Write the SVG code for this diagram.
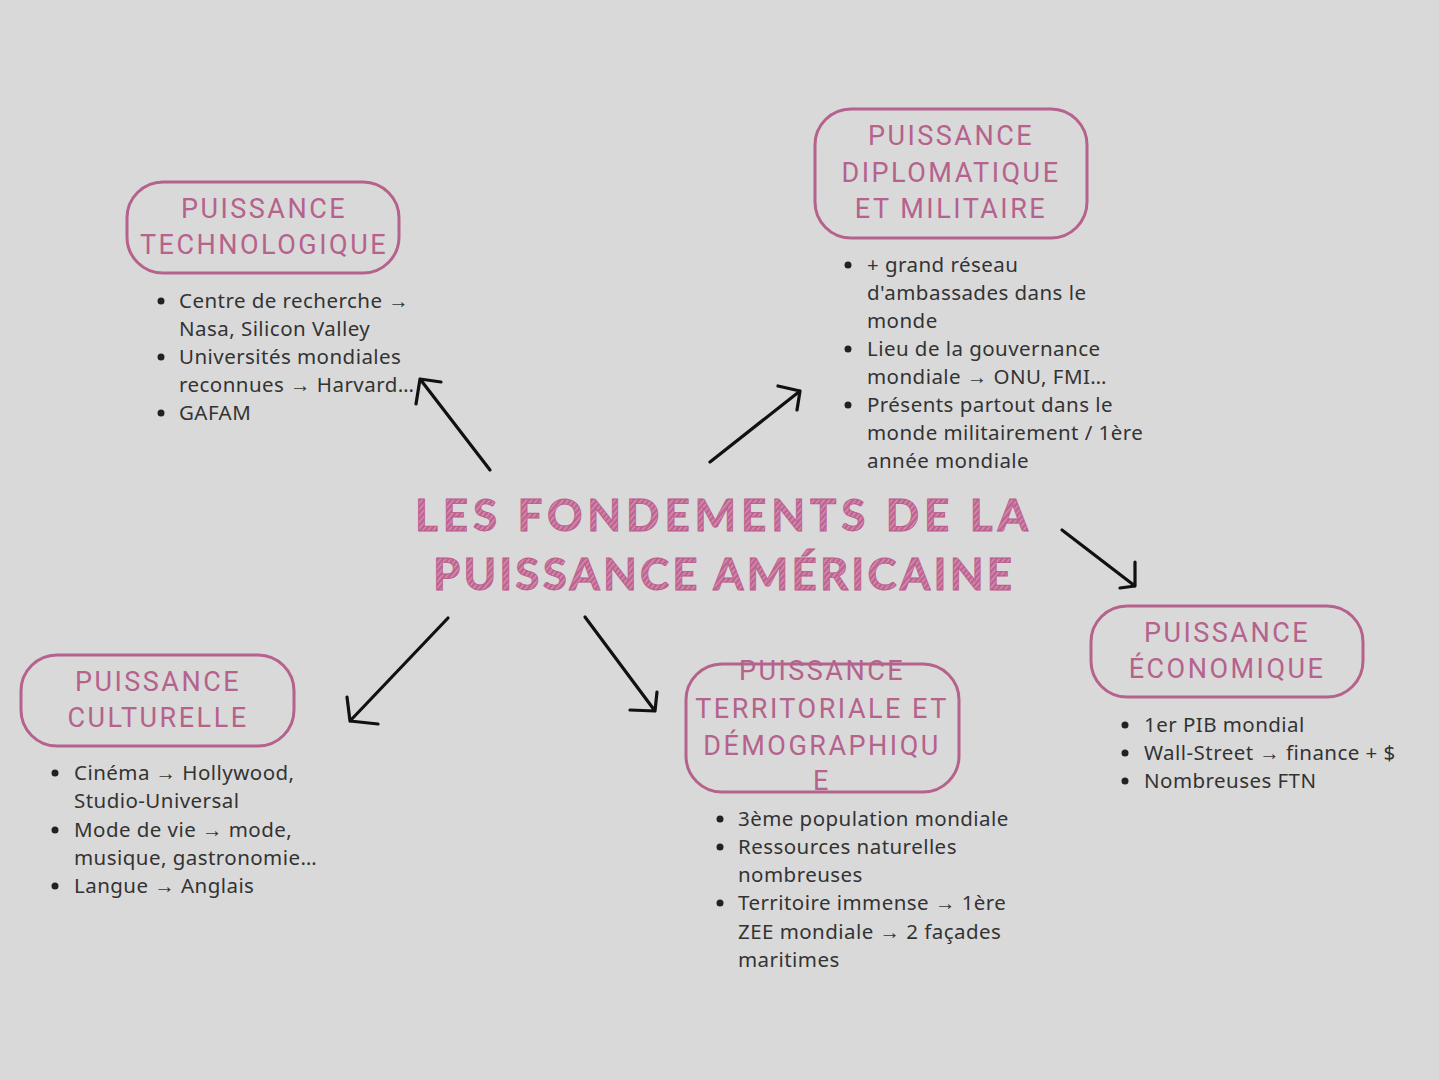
<svg xmlns="http://www.w3.org/2000/svg" width="1439" height="1080" viewBox="0 0 1439 1080">
<defs>
<pattern id="hatch" width="4" height="4" patternUnits="userSpaceOnUse" patternTransform="rotate(40)">
<rect width="4" height="4" fill="#bd6390"/>
<rect width="1.4" height="4" fill="#d990b4"/>
</pattern>
<style>
.box{fill:none;stroke:#b5628d;stroke-width:3}
.bt{font-family:Roboto,"Liberation Sans",sans-serif;font-size:27px;fill:#b5628d;letter-spacing:2.5px;text-anchor:middle}
.tx{font-family:"Noto Sans","Liberation Sans",sans-serif;font-size:20.5px;letter-spacing:0.45px;fill:#333333}
.title{font-family:Lato,"Liberation Sans",sans-serif;font-weight:700;font-size:44px;fill:url(#hatch);stroke:#b85c8a;stroke-width:0.8}
.ar{fill:none;stroke:#111111;stroke-width:3.2;stroke-linecap:round;stroke-linejoin:round}
</style>
</defs>
<rect width="1439" height="1080" fill="#d9d9d9"/>
<g id="title">
<text class="title" x="415" y="531" textLength="613" lengthAdjust="spacing">LES FONDEMENTS DE LA</text>
<text class="title" x="433" y="590" textLength="579" lengthAdjust="spacing">PUISSANCE AMÉRICAINE</text>
</g>
<g id="node-tech">
<rect class="box" x="127" y="182" width="272" height="91" rx="36"/>
<text class="bt" x="264" y="218">PUISSANCE</text>
<text class="bt" x="264" y="254">TECHNOLOGIQUE</text>
<g class="tx">
<circle cx="161" cy="301" r="3.5" fill="#222"/><text x="179" y="308">Centre de recherche →</text>
<text x="179" y="336">Nasa, Silicon Valley</text>
<circle cx="161" cy="357" r="3.5" fill="#222"/><text x="179" y="364">Universités mondiales</text>
<text x="179" y="392">reconnues → Harvard…</text>
<circle cx="161" cy="413" r="3.5" fill="#222"/><text x="179" y="420">GAFAM</text>
</g>
</g>
<g id="node-diplo">
<rect class="box" x="815" y="109" width="272" height="129" rx="36"/>
<text class="bt" x="951" y="145">PUISSANCE</text>
<text class="bt" x="951" y="182">DIPLOMATIQUE</text>
<text class="bt" x="951" y="218">ET MILITAIRE</text>
<g class="tx">
<circle cx="848" cy="265" r="3.5" fill="#222"/><text x="867" y="272">+ grand réseau</text>
<text x="867" y="300">d'ambassades dans le</text>
<text x="867" y="328">monde</text>
<circle cx="848" cy="349" r="3.5" fill="#222"/><text x="867" y="356">Lieu de la gouvernance</text>
<text x="867" y="384">mondiale → ONU, FMI…</text>
<circle cx="848" cy="405" r="3.5" fill="#222"/><text x="867" y="412">Présents partout dans le</text>
<text x="867" y="440">monde militairement / 1ère</text>
<text x="867" y="468">année mondiale</text>
</g>
</g>
<g id="node-culture">
<rect class="box" x="21" y="655" width="273" height="91" rx="36"/>
<text class="bt" x="158" y="691">PUISSANCE</text>
<text class="bt" x="158" y="727">CULTURELLE</text>
<g class="tx">
<circle cx="55" cy="773" r="3.5" fill="#222"/><text x="74" y="780">Cinéma → Hollywood,</text>
<text x="74" y="808">Studio-Universal</text>
<circle cx="55" cy="830" r="3.5" fill="#222"/><text x="74" y="837">Mode de vie → mode,</text>
<text x="74" y="865">musique, gastronomie…</text>
<circle cx="55" cy="886" r="3.5" fill="#222"/><text x="74" y="893">Langue → Anglais</text>
</g>
</g>
<g id="node-terr">
<text class="bt" x="822" y="680">PUISSANCE</text>
<rect class="box" x="686" y="664" width="273" height="128" rx="36"/>
<text class="bt" x="822" y="718">TERRITORIALE ET</text>
<text class="bt" x="822" y="755">DÉMOGRAPHIQU</text>
<text class="bt" x="822" y="790">E</text>
<g class="tx">
<circle cx="720" cy="819" r="3.5" fill="#222"/><text x="738" y="826">3ème population mondiale</text>
<circle cx="720" cy="847" r="3.5" fill="#222"/><text x="738" y="854">Ressources naturelles</text>
<text x="738" y="882">nombreuses</text>
<circle cx="720" cy="903" r="3.5" fill="#222"/><text x="738" y="910">Territoire immense → 1ère</text>
<text x="738" y="939">ZEE mondiale → 2 façades</text>
<text x="738" y="967">maritimes</text>
</g>
</g>
<g id="node-eco">
<rect class="box" x="1091" y="606" width="272" height="91" rx="36"/>
<text class="bt" x="1227" y="642">PUISSANCE</text>
<text class="bt" x="1227" y="678">ÉCONOMIQUE</text>
<g class="tx">
<circle cx="1125" cy="725" r="3.5" fill="#222"/><text x="1144" y="732">1er PIB mondial</text>
<circle cx="1125" cy="753" r="3.5" fill="#222"/><text x="1144" y="760">Wall-Street → finance + $</text>
<circle cx="1125" cy="781" r="3.5" fill="#222"/><text x="1144" y="788">Nombreuses FTN</text>
</g>
</g>
<g id="connectors">
<path class="ar" d="M490 470 L420 379 M441 382 L420 379 L416 404"/>
<path class="ar" d="M710 462 L800 391 M778 386 L800 391 L797 410"/>
<path class="ar" d="M1062 530 L1135 586 M1135 562 L1135 586 L1120 588"/>
<path class="ar" d="M448 618 L350 721 M347 697 L350 721 L378 724"/>
<path class="ar" d="M585 617 L655 711 M657 692 L655 711 L630 710"/>
</g>
</svg>
